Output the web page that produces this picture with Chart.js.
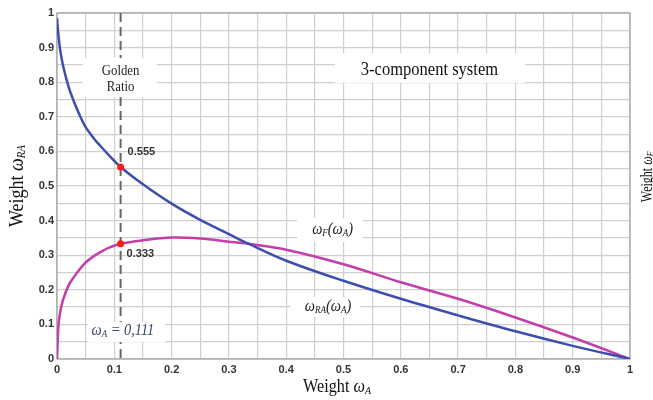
<!DOCTYPE html>
<html>
<head>
<meta charset="utf-8">
<script src="https://cdn.jsdelivr.net/npm/chart.js@4/dist/chart.umd.min.js"></script>
<style>
  html, body { margin: 0; padding: 0; background: #fff; }
  canvas { display: block; }
</style>
</head>
<body>
<canvas id="c" width="653" height="400"></canvas>
<script>
// ---- data ----
const weightA  = [0, 0.0025, 0.005, 0.01, 0.02, 0.03, 0.04, 0.05, 0.065, 0.075, 0.09, 0.111, 0.15, 0.2, 0.25, 0.3, 0.333, 0.4, 0.5, 0.6, 0.7, 0.8, 0.9, 1];
const weightRA = [0.985, 0.935, 0.9, 0.852, 0.788, 0.742, 0.703, 0.67, 0.636, 0.617, 0.59, 0.555, 0.505, 0.449, 0.402, 0.361, 0.334, 0.284, 0.226, 0.174, 0.126, 0.08, 0.038, 0];
const weightF  = [0, 0.095, 0.13, 0.168, 0.212, 0.238, 0.26, 0.279, 0.298, 0.308, 0.321, 0.333, 0.343, 0.351, 0.348, 0.339, 0.333, 0.316, 0.274, 0.222, 0.174, 0.12, 0.062, 0];
const goldenA  = 0.111;
const goldenRA = 0.555;
const goldenF  = 0.333;
const gridValues = [0, 0.05, 0.1, 0.15, 0.2, 0.25, 0.3, 0.35, 0.4, 0.45, 0.5, 0.55, 0.6, 0.65, 0.7, 0.75, 0.8, 0.85, 0.9, 0.95, 1];
const tickLabels = ['0', '0.1', '0.2', '0.3', '0.4', '0.5', '0.6', '0.7', '0.8', '0.9', '1'];

const SERIF = '"Liberation Serif", "DejaVu Serif", serif';
const SANS = '"Liberation Sans", Arial, sans-serif';

function labelFor(v) {
  const k = Math.round(v * 20);
  return k % 2 === 0 ? tickLabels[k / 2] : '';
}

function drawRich(ctx, segs, cx, cy, sx) {
  sx = sx || 1;
  let total = 0;
  segs.forEach(s => { ctx.font = s.f; s.w = ctx.measureText(s.t).width * sx; total += s.w; });
  let x = cx - total / 2;
  segs.forEach(s => {
    ctx.save();
    ctx.font = s.f;
    ctx.fillStyle = s.c || ctx.fillStyle;
    ctx.textBaseline = 'middle';
    ctx.textAlign = 'left';
    ctx.translate(x, cy + (s.dy || 0));
    ctx.scale(sx, 1);
    ctx.fillText(s.t, 0, 0);
    ctx.restore();
    x += s.w;
  });
}

function whiteBox(ctx, xs, ys, a0, a1, v0, v1) {
  const x0 = xs.getPixelForValue(a0), x1 = xs.getPixelForValue(a1);
  const y0 = ys.getPixelForValue(v1), y1 = ys.getPixelForValue(v0);
  ctx.fillStyle = '#fff';
  ctx.fillRect(x0, y0, x1 - x0, y1 - y0);
}

const annot = {
  id: 'annot',
  beforeDraw(chart) {
    const ctx = chart.ctx;
    ctx.save();
    ctx.fillStyle = '#fff';
    ctx.fillRect(0, 0, chart.width, chart.height);
    ctx.restore();
  },
  beforeDatasetsDraw(chart) {
    const ctx = chart.ctx, xs = chart.scales.x, ys = chart.scales.y, ca = chart.chartArea;
    ctx.save();
    ctx.strokeStyle = '#a0a0a0';
    ctx.lineWidth = 1.2;
    ctx.strokeRect(ca.left, ca.top, ca.right - ca.left, ca.bottom - ca.top);
    const gx = xs.getPixelForValue(goldenA);
    ctx.strokeStyle = '#666';
    ctx.lineWidth = 2;
    ctx.setLineDash([9, 5]);
    ctx.beginPath();
    ctx.moveTo(gx, ca.top);
    ctx.lineTo(gx, ca.bottom);
    ctx.stroke();
    ctx.setLineDash([]);
    whiteBox(ctx, xs, ys, 0.045, 0.174, 0.757, 0.870);
    whiteBox(ctx, xs, ys, 0.485, 0.817, 0.798, 0.884);
    whiteBox(ctx, xs, ys, 0.419, 0.534, 0.338, 0.407);
    whiteBox(ctx, xs, ys, 0.407, 0.529, 0.121, 0.179);
    whiteBox(ctx, xs, ys, 0.054, 0.189, 0.049, 0.107);
    ctx.fillStyle = '#222';
    drawRich(ctx, [{t: 'Golden', f: '15px ' + SERIF}], xs.getPixelForValue(goldenA), ys.getPixelForValue(0.833), 0.85);
    drawRich(ctx, [{t: 'Ratio', f: '15px ' + SERIF}], xs.getPixelForValue(goldenA), ys.getPixelForValue(0.785), 0.85);
    ctx.fillStyle = '#111';
    drawRich(ctx, [{t: '3-component system', f: '19px ' + SERIF}], xs.getPixelForValue(0.65), ys.getPixelForValue(0.835), 0.87);
    ctx.fillStyle = '#222';
    const it = 'italic 16px ' + SERIF, sub = 'italic 10px ' + SERIF;
    drawRich(ctx, [{t: 'ω', f: it}, {t: 'F', f: sub, dy: 3}, {t: '(ω', f: it}, {t: 'A', f: sub, dy: 3}, {t: ')', f: it}],
      xs.getPixelForValue(0.481), ys.getPixelForValue(0.372), 0.9);
    drawRich(ctx, [{t: 'ω', f: it}, {t: 'RA', f: sub, dy: 3}, {t: '(ω', f: it}, {t: 'A', f: sub, dy: 3}, {t: ')', f: it}],
      xs.getPixelForValue(0.473), ys.getPixelForValue(0.150), 0.9);
    ctx.fillStyle = '#3a4868';
    drawRich(ctx, [{t: 'ω', f: it}, {t: 'A', f: sub, dy: 3}, {t: ' = 0,111', f: it}],
      xs.getPixelForValue(0.115), ys.getPixelForValue(0.081), 0.9);
    ctx.restore();
  },
  afterDraw(chart) {
    const ctx = chart.ctx, xs = chart.scales.x, ys = chart.scales.y;
    ctx.save();
    ctx.fillStyle = '#333';
    ctx.font = 'bold 11px ' + SANS;
    ctx.textAlign = 'left';
    ctx.textBaseline = 'middle';
    const gx = xs.getPixelForValue(goldenA);
    ctx.fillText(goldenRA.toFixed(3), gx + 7, ys.getPixelForValue(goldenRA) - 15);
    ctx.fillText(goldenF.toFixed(3), gx + 6, ys.getPixelForValue(goldenF) + 10);
    ctx.fillStyle = '#111';
    drawRich(ctx, [{t: 'Weight ', f: '18px ' + SERIF}, {t: 'ω', f: 'italic 18px ' + SERIF}, {t: 'A', f: 'italic 11px ' + SERIF, dy: 4}],
      337, 387, 0.9);
    ctx.save();
    ctx.translate(18, 186);
    ctx.rotate(-Math.PI / 2);
    drawRich(ctx, [{t: 'Weight ', f: '20px ' + SERIF}, {t: 'ω', f: 'italic 20px ' + SERIF}, {t: 'RA', f: 'italic 12px ' + SERIF, dy: 4}],
      0, 0, 0.9);
    ctx.restore();
    ctx.save();
    ctx.translate(648, 177);
    ctx.rotate(-Math.PI / 2);
    drawRich(ctx, [{t: 'Weight ', f: '16px ' + SERIF}, {t: 'ω', f: 'italic 16px ' + SERIF}, {t: 'F', f: 'italic 10px ' + SERIF, dy: 3}],
      0, 0, 0.75);
    ctx.restore();
    ctx.restore();
  }
};

const toXY = (xs, ys) => xs.map((x, i) => ({x: x, y: ys[i]}));

new Chart(document.getElementById('c'), {
  type: 'scatter',
  data: {
    datasets: [
      {
        label: 'Golden ratio points',
        data: [{x: goldenA, y: goldenRA}, {x: goldenA, y: goldenF}],
        showLine: false,
        pointRadius: 3.5,
        pointBackgroundColor: '#ff1a1a',
        pointBorderColor: '#ff1a1a',
        pointBorderWidth: 0
      },
      {
        label: 'ωRA(ωA)',
        data: toXY(weightA, weightRA),
        showLine: true,
        borderColor: '#3e4eae',
        borderWidth: 2.5,
        pointRadius: 0,
        tension: 0.35,
        fill: false
      },
      {
        label: 'ωF(ωA)',
        data: toXY(weightA, weightF),
        showLine: true,
        borderColor: '#c43ea8',
        borderWidth: 2.5,
        pointRadius: 0,
        tension: 0.35,
        fill: false
      }
    ]
  },
  options: {
    responsive: false,
    animation: false,
    events: [],
    layout: {padding: {left: 0, top: 13, right: 23, bottom: 0}},
    plugins: {legend: {display: false}, tooltip: {enabled: false}, title: {display: false}},
    scales: {
      x: {
        type: 'linear', min: 0, max: 1,
        afterBuildTicks(s) { s.ticks = gridValues.map(v => ({value: v})); },
        afterFit(s) { s.height = 41; },
        ticks: {
          autoSkip: false, maxRotation: 0, padding: 4, color: '#333',
          font: {family: SANS, size: 11, weight: 'bold'},
          callback: v => labelFor(v)
        },
        grid: {color: '#cfcfcf', lineWidth: 1.2, drawTicks: false},
        border: {display: false}
      },
      y: {
        type: 'linear', min: 0, max: 1,
        afterBuildTicks(s) { s.ticks = gridValues.map(v => ({value: v})); },
        afterFit(s) { s.width = 57; },
        ticks: {
          autoSkip: false, padding: 3, color: '#333',
          font: {family: SANS, size: 11, weight: 'bold'},
          callback: v => labelFor(v)
        },
        grid: {color: '#cfcfcf', lineWidth: 1.2, drawTicks: false},
        border: {display: false}
      }
    }
  },
  plugins: [annot]
});
</script>
</body>
</html>
